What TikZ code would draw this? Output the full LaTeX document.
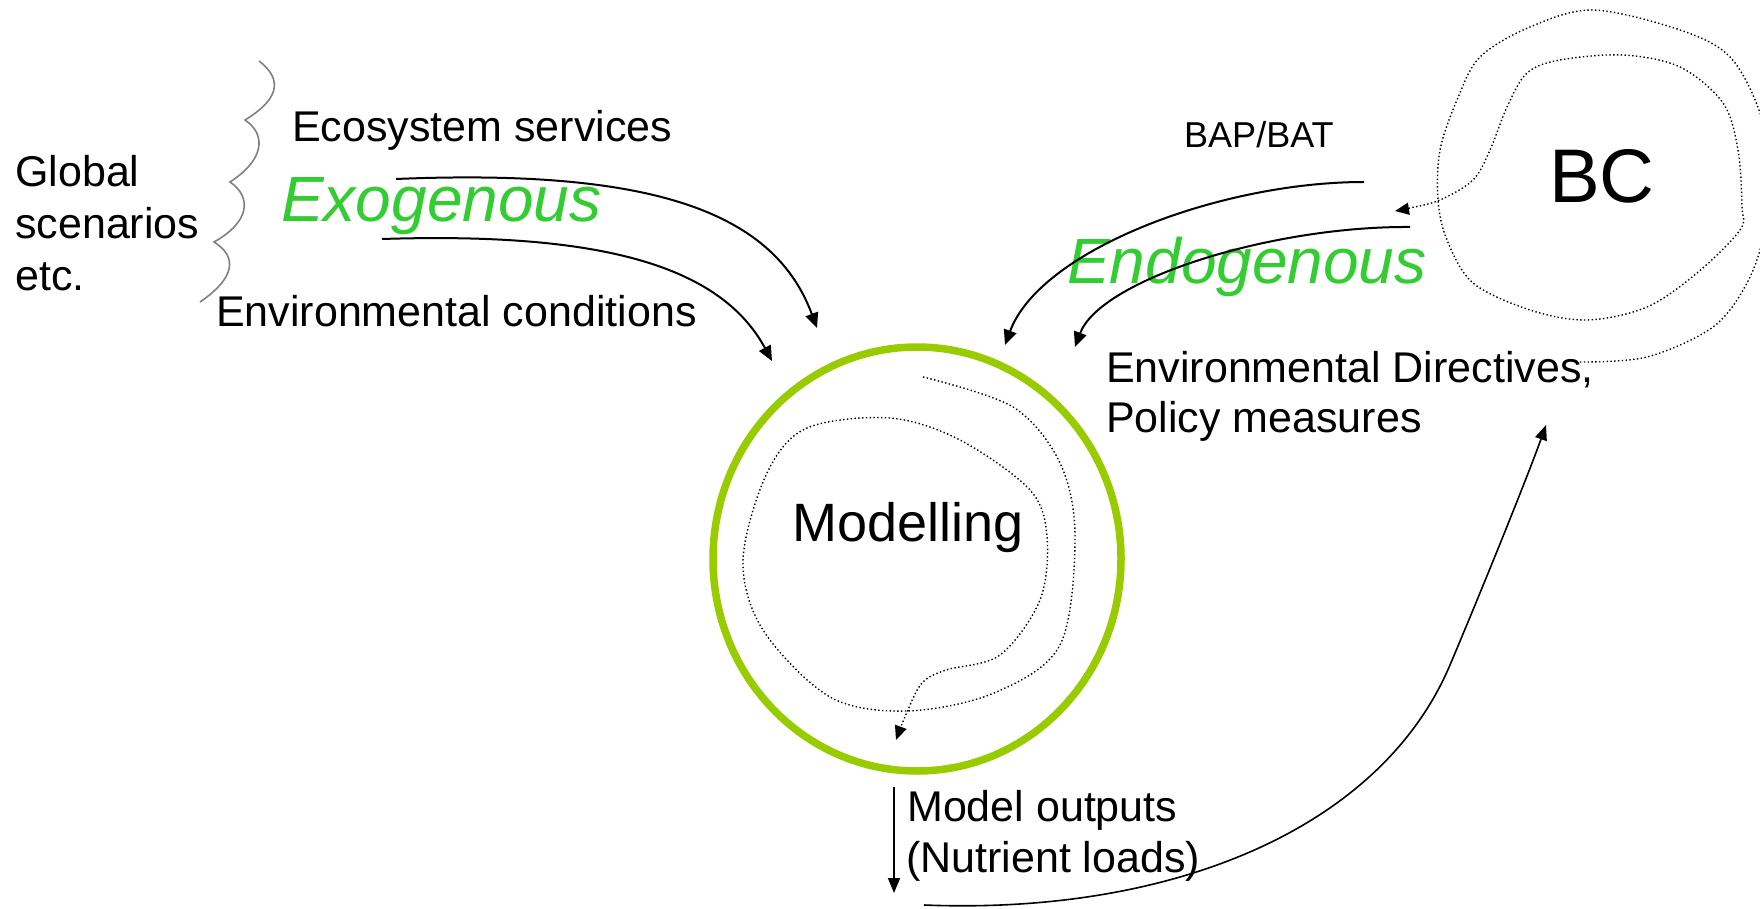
\documentclass[tikz,border=0pt]{standalone}
\usepackage{fontspec}
\setmainfont{Liberation Sans}
\usetikzlibrary{arrows.meta,shapes.geometric}
\definecolor{exo}{RGB}{51,204,51}
\definecolor{ringgreen}{RGB}{153,204,0}
\begin{document}
\begin{tikzpicture}[x=1pt,y=-1pt,
  lbl/.style={anchor=base west, inner sep=0pt, font=\fontsize{43}{51}\selectfont},
  biglbl/.style={anchor=base west, inner sep=0pt, font=\fontsize{64}{75}\selectfont\itshape, text=exo},
  arr/.style={line width=2pt, -{Triangle[length=15pt,width=13pt]}},
  thinarr/.style={line width=1.6pt, -{Triangle[length=15pt,width=12pt]}},
  dotarr/.style={line width=1.4pt, dash pattern=on 1.4pt off 2.4pt, -{Triangle[length=14pt,width=12pt]}},
  wave/.style={black!50, line width=1.6pt}]
\useasboundingbox (0,0) rectangle (1760,909);

% texts
\node[lbl] (g1) at (15,187) {Global};
\node[lbl] (g2) at (15,239) {scenarios};
\node[lbl] (g3) at (15,290) {etc.};
\node[lbl] (eco) at (292,142) {Ecosystem services};
\node[biglbl] (exog) at (281,222) {Exogenous};
\node[lbl] (envc) at (216,326) {Environmental conditions};
\node[anchor=base west, inner sep=0pt, font=\fontsize{36}{43}\selectfont] (bap) at (1184,148) {BAP/BAT};
\node[biglbl] (endo) at (1067,283) {Endogenous};
\node[anchor=base west, inner sep=0pt, font=\fontsize{76}{90}\selectfont] (bc) at (1549,203) {BC};
\node[lbl] (dir1) at (1106,382) {Environmental Directives,};
\node[lbl] (dir2) at (1106,432) {Policy measures};
\node[lbl] (out1) at (907,821) {Model outputs};
\node[lbl] (out2) at (906,872) {(Nutrient loads)};

% modelling ring
\node[ellipse, draw=ringgreen, line width=7.5pt, minimum width=408pt, minimum height=424pt, inner sep=0pt] (ring) at (917,559) {};
\node[anchor=base west, inner sep=0pt, font=\fontsize{54}{64}\selectfont] (model) at (792,541) {Modelling};

% wavy brace
\draw[wave] (259,61) .. controls (284,80) and (278,100) .. (245,120)
  .. controls (267,135) and (264,160) .. (230,182)
  .. controls (252,197) and (250,222) .. (214,242)
  .. controls (238,257) and (235,278) .. (200,302);

% exogenous arrows
\coordinate (exoA) at (396,179); \coordinate (exoAt) at (817,328);
\coordinate (exoB) at (382,239); \coordinate (exoBt) at (772,361);
\draw[arr] (exoA) .. controls (660,168) and (775,215) .. (exoAt);
\draw[arr] (exoB) .. controls (600,232) and (720,265) .. (exoBt);

% endogenous arrows
\coordinate (endA) at (1364,182); \coordinate (endAt) at (1005,345);
\coordinate (endB) at (1410,227); \coordinate (endBt) at (1075,347);
\draw[arr] (endA) .. controls (1220,182) and (1040,250) .. (endAt);
\draw[arr] (endB) .. controls (1270,226) and (1100,280) .. (endBt);

% model outputs arrow
\coordinate (outA) at (894,787); \coordinate (outB) at (894,893);
\draw[thinarr] (outA) -- (outB);

% feedback curve to BC
\coordinate (fbA) at (924,905); \coordinate (fbM) at (1450,665); \coordinate (fbB) at (1546,425);
\draw[thinarr] (fbA) .. controls (1170,915) and (1380,830) .. (fbM)
  .. controls (1490,570) and (1530,470) .. (fbB);

% dotted spiral in modelling
\draw[dotarr] plot[smooth, tension=0.55] coordinates {
  (923,377) (1013,407) (1060,463) (1075,537) (1060,645) (994,693) (907,711)
  (830,697) (763,630) (743,560) (767,473) (807,428) (890,418) (960,440)
  (1030,490) (1047,537) (1040,600) (1000,655) (946,670) (922,683) (907,712) (896,740)};

% dotted spiral around BC
\draw[dotarr] plot[smooth, tension=0.55] coordinates {
  (1580,362) (1647,357) (1713,327) (1747,283) (1764,233) (1768,170) (1760,113)
  (1730,57) (1680,30) (1593,10) (1530,27) (1480,57) (1457,100) (1440,150)
  (1438,200) (1447,240) (1473,283) (1530,310) (1587,320) (1647,307) (1697,273)
  (1740,230) (1742,207) (1738,150) (1723,103) (1680,67) (1623,55) (1560,60)
  (1527,73) (1507,107) (1490,150) (1473,180) (1440,200) (1410,208) (1395,211)};
\end{tikzpicture}
\end{document}
